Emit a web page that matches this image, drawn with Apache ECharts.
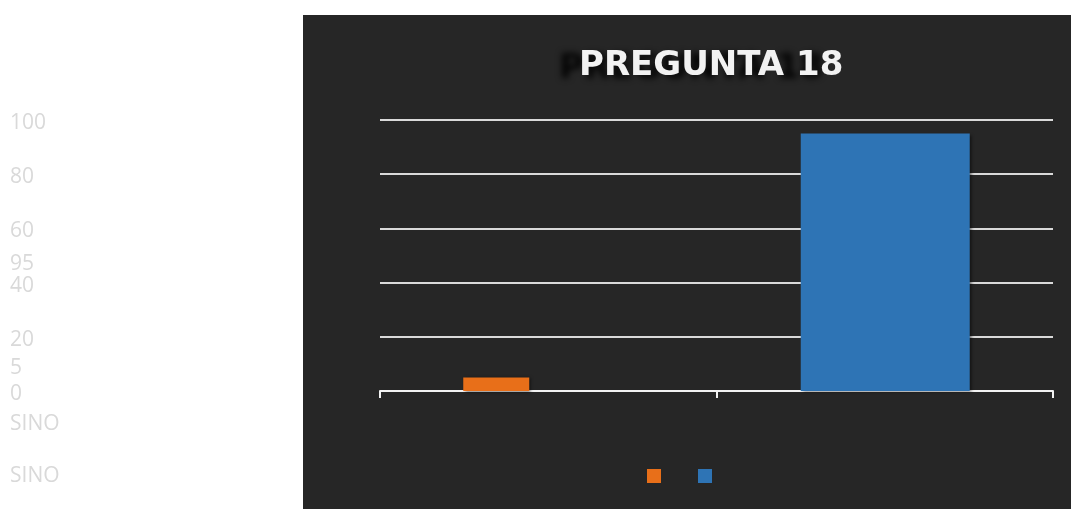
<!DOCTYPE html>
<html lang="es">
<head>
    <meta charset="UTF-8">
    <title>Pregunta 18</title>
    <style>
        html, body { margin: 0; padding: 0; background: #ffffff; }
        #panel { position: absolute; left: 303px; top: 15px; width: 768px; height: 494px; background: #262626; }
        #main { position: absolute; left: 0; top: 0; width: 1071px; height: 509px; }
    </style>
</head>
<body>
<!-- fondo oscuro del grafico -->
<div id="panel"></div>
<div id="main"></div>
<script type="text/javascript" src="https://cdn.jsdelivr.net/npm/echarts@6/dist/echarts.min.js"></script>
<script type="text/javascript">
    // datos
    var categories = ['SI', 'NO'];
    var values = [5, 95];
    var yTicks = [0, 20, 40, 60, 80, 100];
    var titleText = 'PREGUNTA 18';

    var grayText = '#d9d9d9';

    var myChart = echarts.init(document.getElementById('main'));

    // textos sueltos a la izquierda (etiquetas de datos, categorias, leyenda)
    var loose = [
        {text: String(values[1]), y: 263},
        {text: String(values[0]), y: 367},
        {text: categories.join(''), y: 423},
        {text: categories.join(''), y: 475}
    ];
    var graphics = loose.map(function (t) {
        return {
            type: 'text', left: 10, top: t.y - 9,
            style: {text: t.text, font: '21px "Open Sans"', fill: grayText}
        };
    });

    var option = {
        animation: false,
        title: {
            text: titleText,
            left: 574, top: 44,
            textStyle: {
                fontFamily: 'DejaVu Sans', fontWeight: 'bold', fontSize: 34, color: '#f2f2f2',
                textShadowColor: 'rgba(0,0,0,0.9)', textShadowBlur: 6,
                textShadowOffsetX: -20, textShadowOffsetY: 3
            }
        },
        legend: {
            data: categories,
            left: 647, top: 469, padding: 0,
            icon: 'rect', itemWidth: 14, itemHeight: 14, itemGap: 37,
            formatter: function () { return ''; },
            textStyle: {fontSize: 1}
        },
        grid: {left: 380, right: 18, top: 120, bottom: 118},
        xAxis: {
            type: 'category',
            data: categories,
            axisLine: {lineStyle: {color: '#f2f2f2', width: 2}},
            axisTick: {show: true, length: 7, lineStyle: {color: '#f2f2f2', width: 2}},
            axisLabel: {show: false}
        },
        yAxis: {
            type: 'value',
            min: yTicks[0], max: yTicks[yTicks.length - 1], interval: 20,
            axisLine: {show: false},
            axisTick: {show: false},
            splitLine: {lineStyle: {color: '#d9d9d9', width: 2}},
            axisLabel: {
                align: 'left', margin: 370,
                formatter: function (v) { return '{v|' + v + '}'; },
                rich: {v: {padding: [6, 0, 0, 0], fontFamily: 'Open Sans', fontSize: 21, color: grayText}}
            }
        },
        graphic: graphics,
        series: [{
            name: categories[0],
            type: 'bar',
            data: [values[0], '-'],
            barWidth: 66,
            barGap: '-98.5%',
            itemStyle: {color: '#e86f19', shadowColor: 'rgba(0,0,0,0.5)', shadowBlur: 3, shadowOffsetX: 2, shadowOffsetY: 1}
        }, {
            name: categories[1],
            type: 'bar',
            data: ['-', values[1]],
            barWidth: 169,
            barGap: '-98.5%',
            itemStyle: {color: '#2e74b5', shadowColor: 'rgba(0,0,0,0.5)', shadowBlur: 3, shadowOffsetX: 2, shadowOffsetY: 1}
        }]
    };
    myChart.setOption(option);
</script>
</body>
</html>
